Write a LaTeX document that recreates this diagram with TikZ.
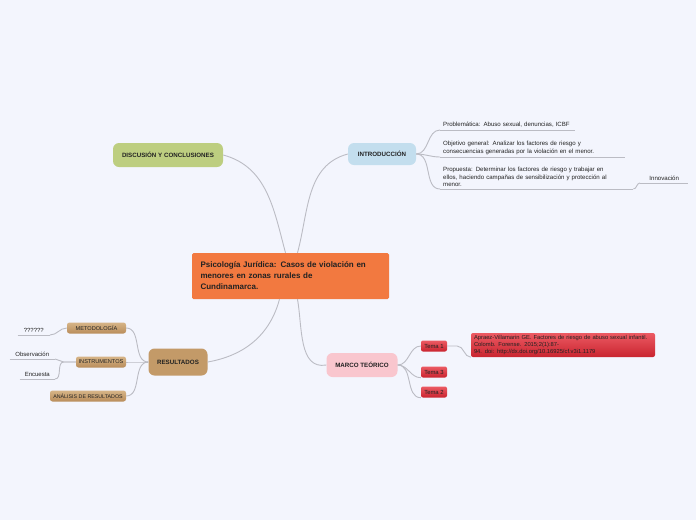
\documentclass[tikz,border=0pt]{standalone}
\usepackage{fontspec}
\setmainfont{Liberation Sans}
\usetikzlibrary{positioning}
\definecolor{bgc}{HTML}{F3F5FD}
\definecolor{linec}{HTML}{BBBCC4}
\definecolor{orangec}{HTML}{F27940}
\definecolor{bluec}{HTML}{C3DEEE}
\definecolor{greenc}{HTML}{BDCE80}
\definecolor{tanc}{HTML}{C39A68}
\definecolor{tantop}{HTML}{D6B487}
\definecolor{tanbot}{HTML}{B98D5B}
\definecolor{pinkc}{HTML}{F9C6CE}
\definecolor{redtop}{HTML}{EC5A63}
\definecolor{redbot}{HTML}{C9242F}
\definecolor{txtc}{HTML}{222222}

\begin{document}
\begin{tikzpicture}[x=1pt,y=1pt, topic/.style={rounded corners=6pt,align=center,font=\fontsize{6.2}{7}\selectfont\bfseries,text=txtc,inner sep=0pt}, subtopic/.style={rounded corners=2.5pt,align=center,font=\fontsize{5.6}{6}\selectfont,text=txtc,inner sep=0pt,minimum height=11pt,top color=tantop,bottom color=tanbot}, tema/.style={rounded corners=2pt,align=center,font=\fontsize{5.9}{6}\selectfont,text=txtc,inner sep=0pt,minimum height=11pt,top color=redtop,bottom color=redbot}, leaf/.style={align=left,font=\fontsize{6.1}{7.2}\selectfont,text=txtc,inner xsep=3pt,inner ysep=2.5pt,anchor=south west}, lleaf/.style={align=center,font=\fontsize{6}{7}\selectfont,text=txtc,inner xsep=0pt,inner ysep=2.5pt,anchor=south east}, conn/.style={draw=linec,line width=0.9pt}]
\fill[bgc] (0,0) rectangle (696,-520);
\useasboundingbox (0,0) rectangle (696,-520);

% central topic
\node[fill=orangec,rounded corners=1.5pt,minimum width=197pt,minimum height=46pt,text width=180pt,align=left,inner sep=0pt,font=\fontsize{8}{11}\selectfont\bfseries,text=txtc] (ctr) at (290.5,-276) {Psicología Jurídica: Casos de violación en\\menores en zonas rurales de\\Cundinamarca.};

% main topics
\node[topic,fill=greenc,minimum width=110pt,minimum height=24pt] (disc) at (168,-155) {DISCUSIÓN Y CONCLUSIONES};
\node[topic,fill=bluec,minimum width=68pt,minimum height=22pt] (intro) at (382,-154) {INTRODUCCIÓN};
\node[topic,fill=tanc,minimum width=59pt,minimum height=27pt] (res) at (178,-362) {RESULTADOS};
\node[topic,fill=pinkc,minimum width=71pt,minimum height=24pt] (marco) at (362,-365) {MARCO TEÓRICO};

% introduccion
\node[leaf,text width=129pt] (prob) at (440,-130) {Problemática: Abuso sexual, denuncias, ICBF};
\node[leaf,text width=179pt] (obj) at (440,-157) {Objetivo general: Analizar los factores de riesgo y\\consecuencias generadas por la violación en el menor.};
\node[leaf,text width=187pt] (prop) at (440,-189) {Propuesta: Determinar los factores de riesgo y trabajar en\\ellos, haciendo campañas de sensibilización y protección al\\menor.};
\node[leaf,text width=48pt,inner xsep=0pt,align=center] (innov) at (640,-183) {Innovación};

% resultados
\node[subtopic,minimum width=59pt] (metod) at (96.5,-328) {METODOLOGÍA};
\node[subtopic,minimum width=50pt] (instr) at (101,-362) {INSTRUMENTOS};
\node[subtopic,minimum width=76pt,font=\fontsize{5.3}{6}\selectfont] (anal) at (88,-396) {ANÁLISIS DE RESULTADOS};
\node[lleaf,text width=32pt] (qq) at (50,-335) {??????};
\node[lleaf,text width=45pt] (obs) at (55,-359) {Observación};
\node[lleaf,text width=35pt] (enc) at (55,-379) {Encuesta};

% marco teorico
\node[tema,minimum width=26pt] (t1) at (434,-346) {Tema 1};
\node[tema,minimum width=26pt] (t3) at (434,-372) {Tema 3};
\node[tema,minimum width=26pt] (t2) at (434,-392) {Tema 2};
\node[rounded corners=2pt,top color=redtop,bottom color=redbot,minimum width=184pt,minimum height=24pt,text width=178pt,align=left,inner sep=0pt,font=\fontsize{5.8}{7}\selectfont,text=txtc] (ref) at (563,-345) {Apraez-Villamarin GE. Factores de riesgo de abuso sexual infantil.\\Colomb. Forense. 2015;2(1):87-\\94. doi: http://dx.doi.org/10.16925/cf.v3i1.1179};

% underlines
\draw[conn] (prob.south west) -- (prob.south east);
\draw[conn] (obj.south west) -- (obj.south east);
\draw[conn] (prop.south west) -- (prop.south east);
\draw[conn] (innov.south west) -- (innov.south east);
\draw[conn] (qq.south west) -- (qq.south east);
\draw[conn] (obs.south west) -- (obs.south east);
\draw[conn] (enc.south west) -- (enc.south east);

% connectors
\draw[conn] ([xshift=-5pt]ctr.north) to[out=105,in=-15] (disc.east);
\draw[conn] ([xshift=7pt]ctr.north) to[out=75,in=195] (intro.west);
\draw[conn] ([xshift=-11pt]ctr.south) to[out=-105,in=10] (res.east);
\draw[conn] ([xshift=7pt]ctr.south) to[out=-80,in=190] (marco.west);
\draw[conn] (intro.east) to[out=0,in=180] (prob.south west);
\draw[conn] (intro.east) to[out=0,in=180] (obj.south west);
\draw[conn] (intro.east) to[out=0,in=180] (prop.south west);
\draw[conn] (prop.south east) to[out=0,in=180] (innov.south west);
\draw[conn] (res.west) to[out=180,in=0] (metod.east);
\draw[conn] (res.west) to[out=180,in=0] (instr.east);
\draw[conn] (res.west) to[out=180,in=0] (anal.east);
\draw[conn] (metod.west) to[out=180,in=0] (qq.south east);
\draw[conn] (instr.west) -- ++(-12,0) to[out=180,in=0] (obs.south east);
\draw[conn] (instr.west) -- ++(-12,0) to[out=180,in=0] (enc.south east);
\draw[conn] (marco.east) to[out=0,in=180] (t1.west);
\draw[conn] (marco.east) to[out=0,in=180] (t3.south west);
\draw[conn] (marco.east) to[out=0,in=180] (t2.south west);
\draw[conn] (t1.east) -- ++(10,0) to[out=0,in=180] (ref.south west);
\end{tikzpicture}
\end{document}
